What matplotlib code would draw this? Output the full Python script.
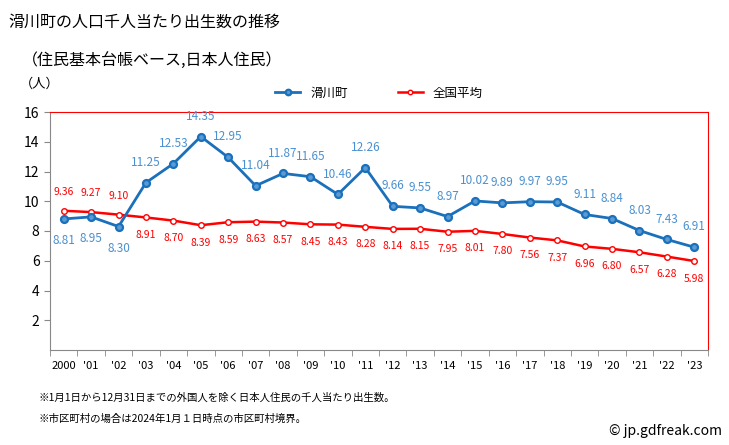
import numpy as np
import matplotlib.pyplot as plt

plt.rcParams['font.family'] = ['Noto Sans CJK JP', 'DejaVu Sans']

years = ['2000', "'01", "'02", "'03", "'04", "'05", "'06", "'07", "'08", "'09", "'10", "'11",
         "'12", "'13", "'14", "'15", "'16", "'17", "'18", "'19", "'20", "'21", "'22", "'23"]
town = [8.81, 8.95, 8.30, 11.25, 12.53, 14.35, 12.95, 11.04, 11.87, 11.65, 10.46, 12.26,
        9.66, 9.55, 8.97, 10.02, 9.89, 9.97, 9.95, 9.11, 8.84, 8.03, 7.43, 6.91]
national = [9.36, 9.27, 9.10, 8.91, 8.70, 8.39, 8.59, 8.63, 8.57, 8.45, 8.43, 8.28,
            8.14, 8.15, 7.95, 8.01, 7.80, 7.56, 7.37, 6.96, 6.80, 6.57, 6.28, 5.98]

blue = '#1a70bb'
blue_txt = '#4a90d0'
red = '#ff0000'

fig = plt.figure(figsize=(7.29, 4.45), dpi=100)
ax = fig.add_axes([50/729, 1-350/445, 658/729, 238/445])

x = np.arange(len(years))
ax.plot(x, town, color=blue, lw=2, marker='o', ms=5, mfc='#5a9ad5', mec=blue, mew=1.6,
        zorder=3, label='滑川町')
ax.plot(x, national, color=red, lw=1.8, marker='o', ms=4, mfc='white', mec=red, mew=1,
        zorder=2, label='全国平均')

for i in x:
    if i < 3:
        ax.annotate(f'{town[i]:.2f}', (i, town[i]), xytext=(0, -11), textcoords='offset points',
                    ha='center', va='top', color=blue_txt, fontsize=8.5)
        ax.annotate(f'{national[i]:.2f}', (i, national[i]), xytext=(0, 10), textcoords='offset points',
                    ha='center', va='bottom', color=red, fontsize=7.5)
    else:
        ax.annotate(f'{town[i]:.2f}', (i, town[i]), xytext=(0, 10), textcoords='offset points',
                    ha='center', va='bottom', color=blue_txt, fontsize=8.5)
        ax.annotate(f'{national[i]:.2f}', (i, national[i]), xytext=(0, -9), textcoords='offset points',
                    ha='center', va='top', color=red, fontsize=7.5)

ax.set_xlim(-0.5, len(years) - 0.5)
ax.set_ylim(0, 16)
ax.set_yticks([2, 4, 6, 8, 10, 12, 14, 16])
ax.tick_params(axis='y', labelsize=10, length=4, color='#888888')
ax.set_xticks(x)
ax.set_xticklabels(years, fontsize=8)
ax.set_xticks(np.arange(-0.5, len(years), 1), minor=True)
ax.tick_params(axis='x', which='major', length=0, pad=8)
ax.tick_params(axis='x', which='minor', length=4, color='#888888')

ax.spines['top'].set_color(red)
ax.spines['right'].set_color(red)
ax.spines['left'].set_color('#888888')
ax.spines['bottom'].set_color('#888888')

fig.text(8/729, 1-22/445, '滑川町の人口千人当たり出生数の推移', fontsize=11.5, va='center')
fig.text(22/729, 1-60/445, '（住民基本台帳ベース,日本人住民）', fontsize=11.5, va='center')
fig.text(20/729, 1-84/445, '（人）', fontsize=9.5, va='center')

ax.legend(loc='lower center', bbox_to_anchor=(0.5, 1.0), ncol=2, frameon=False, fontsize=9,
          handlelength=2, columnspacing=4, borderaxespad=0.6, markerscale=0.8)

fig.text(38/729, 1-398/445, '※1月1日から12月31日までの外国人を除く日本人住民の千人当たり出生数。', fontsize=7.5, va='center')
fig.text(38/729, 1-419/445, '※市区町村の場合は2024年1月１日時点の市区町村境界。', fontsize=7.5, va='center')
fig.text(722/729, 1-431/445, '© jp.gdfreak.com', fontsize=10, ha='right', va='center')

fig.savefig('out.png', dpi=100)
